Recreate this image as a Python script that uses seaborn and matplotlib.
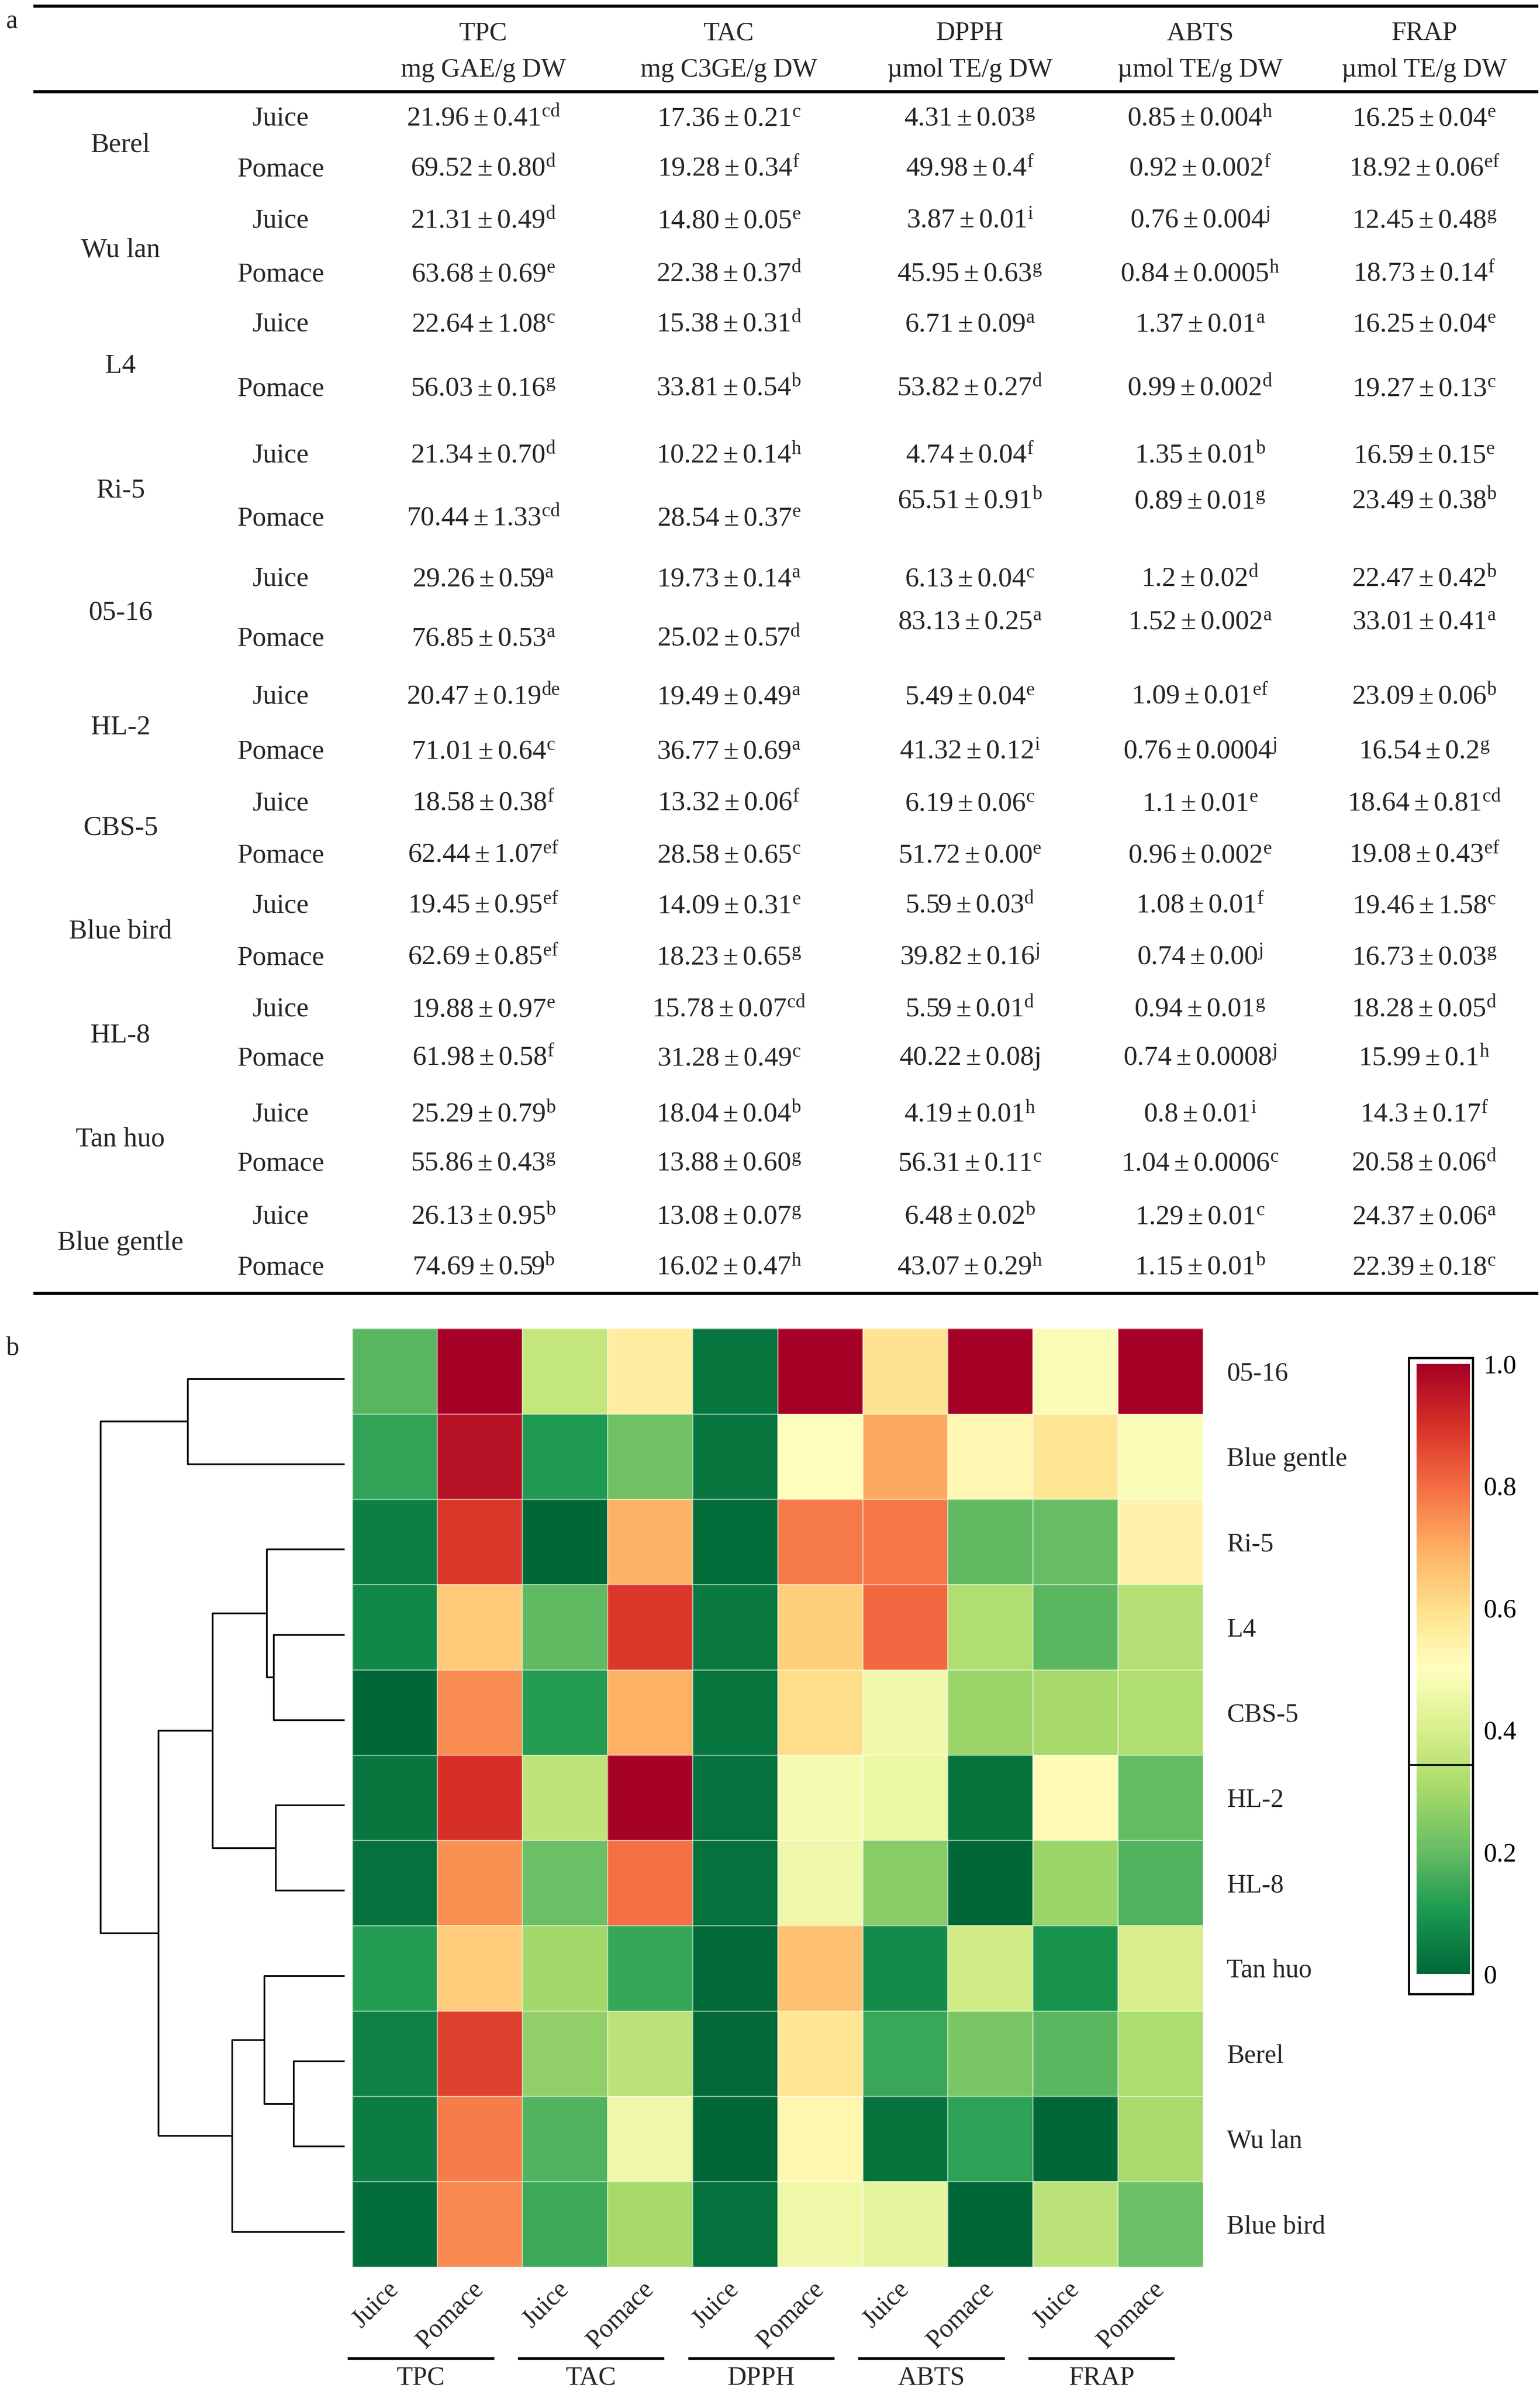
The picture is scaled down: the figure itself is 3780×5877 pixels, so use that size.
import numpy as np
import pandas as pd
import matplotlib
matplotlib.use("Agg")
import matplotlib.pyplot as plt
from matplotlib.patches import Rectangle
import seaborn as sns

# ---------------- data (panel a, order as printed) ----------------
varieties = ["Berel", "Wu lan", "L4", "Ri-5", "05-16", "HL-2", "CBS-5",
             "Blue bird", "HL-8", "Tan huo", "Blue gentle"]
parts = ["Juice", "Pomace"]
assays = ["TPC", "TAC", "DPPH", "ABTS", "FRAP"]
units = ["mg GAE/g DW", "mg C3GE/g DW", "µmol TE/g DW", "µmol TE/g DW", "µmol TE/g DW"]

tpc_mean = ["21.96", "69.52", "21.31", "63.68", "22.64", "56.03", "21.34", "70.44", "29.26", "76.85", "20.47",
            "71.01", "18.58", "62.44", "19.45", "62.69", "19.88", "61.98", "25.29", "55.86", "26.13", "74.69"]
tpc_sd = ["0.41", "0.80", "0.49", "0.69", "1.08", "0.16", "0.70", "1.33", "0.59", "0.53", "0.19",
          "0.64", "0.38", "1.07", "0.95", "0.85", "0.97", "0.58", "0.79", "0.43", "0.95", "0.59"]
tpc_sig = ["cd", "d", "d", "e", "c", "g", "d", "cd", "a", "a", "de",
           "c", "f", "ef", "ef", "ef", "e", "f", "b", "g", "b", "b"]

tac_mean = ["17.36", "19.28", "14.80", "22.38", "15.38", "33.81", "10.22", "28.54", "19.73", "25.02", "19.49",
            "36.77", "13.32", "28.58", "14.09", "18.23", "15.78", "31.28", "18.04", "13.88", "13.08", "16.02"]
tac_sd = ["0.21", "0.34", "0.05", "0.37", "0.31", "0.54", "0.14", "0.37", "0.14", "0.57", "0.49",
          "0.69", "0.06", "0.65", "0.31", "0.65", "0.07", "0.49", "0.04", "0.60", "0.07", "0.47"]
tac_sig = ["c", "f", "e", "d", "d", "b", "h", "e", "a", "d", "a",
           "a", "f", "c", "e", "g", "cd", "c", "b", "g", "g", "h"]

dpph_mean = ["4.31", "49.98", "3.87", "45.95", "6.71", "53.82", "4.74", "65.51", "6.13", "83.13", "5.49",
             "41.32", "6.19", "51.72", "5.59", "39.82", "5.59", "40.22", "4.19", "56.31", "6.48", "43.07"]
dpph_sd = ["0.03", "0.4", "0.01", "0.63", "0.09", "0.27", "0.04", "0.91", "0.04", "0.25", "0.04",
           "0.12", "0.06", "0.00", "0.03", "0.16", "0.01", "0.08", "0.01", "0.11", "0.02", "0.29"]
# "_j" = letter printed at normal size in the original
dpph_sig = ["g", "f", "i", "g", "a", "d", "f", "b", "c", "a", "e",
            "i", "c", "e", "d", "j", "d", "_j", "h", "c", "b", "h"]

abts_mean = ["0.85", "0.92", "0.76", "0.84", "1.37", "0.99", "1.35", "0.89", "1.2", "1.52", "1.09",
             "0.76", "1.1", "0.96", "1.08", "0.74", "0.94", "0.74", "0.8", "1.04", "1.29", "1.15"]
abts_sd = ["0.004", "0.002", "0.004", "0.0005", "0.01", "0.002", "0.01", "0.01", "0.02", "0.002", "0.01",
           "0.0004", "0.01", "0.002", "0.01", "0.00", "0.01", "0.0008", "0.01", "0.0006", "0.01", "0.01"]
abts_sig = ["h", "f", "j", "h", "a", "d", "b", "g", "d", "a", "ef",
            "j", "e", "e", "f", "j", "g", "j", "i", "c", "c", "b"]

frap_mean = ["16.25", "18.92", "12.45", "18.73", "16.25", "19.27", "16.59", "23.49", "22.47", "33.01", "23.09",
             "16.54", "18.64", "19.08", "19.46", "16.73", "18.28", "15.99", "14.3", "20.58", "24.37", "22.39"]
frap_sd = ["0.04", "0.06", "0.48", "0.14", "0.04", "0.13", "0.15", "0.38", "0.42", "0.41", "0.06",
           "0.2", "0.81", "0.43", "1.58", "0.03", "0.05", "0.1", "0.17", "0.06", "0.06", "0.18"]
frap_sig = ["e", "ef", "g", "f", "e", "c", "e", "b", "b", "a", "b",
            "g", "cd", "ef", "c", "g", "d", "h", "f", "d", "a", "c"]

# ---------------- data (panel b) ----------------
heat_order = ["05-16", "Blue gentle", "Ri-5", "L4", "CBS-5", "HL-2", "HL-8",
              "Tan huo", "Berel", "Wu lan", "Blue bird"]
# dendrogram merges: leaf ids = index in heat_order, new nodes numbered from 11
link_left = [3, 5, 8, 2, 14, 7, 16, 15, 0, 19]
link_right = [4, 6, 9, 11, 12, 13, 10, 17, 1, 18]
link_height = [303, 295, 218, 333, 566, 343, 481, 798, 673, 1046]
cbar_ticks = [0, 0.2, 0.4, 0.6, 0.8, 1.0]
cbar_labels = ["0", "0.2", "0.4", "0.6", "0.8", "1.0"]

# ---------------- build tables ----------------
rows = pd.MultiIndex.from_product([varieties, parts], names=["variety", "part"])
means = pd.DataFrame({"TPC": tpc_mean, "TAC": tac_mean, "DPPH": dpph_mean,
                      "ABTS": abts_mean, "FRAP": frap_mean}, index=rows)
sds = pd.DataFrame({"TPC": tpc_sd, "TAC": tac_sd, "DPPH": dpph_sd,
                    "ABTS": abts_sd, "FRAP": frap_sd}, index=rows)
sigs = pd.DataFrame({"TPC": tpc_sig, "TAC": tac_sig, "DPPH": dpph_sig,
                     "ABTS": abts_sig, "FRAP": frap_sig}, index=rows)

vals = means.astype(float)
# min-max scaling per assay (juice + pomace together)
scaled = (vals - vals.min()) / (vals.max() - vals.min())
heat = scaled.reset_index().melt(id_vars=["variety", "part"], var_name="assay", value_name="v")
heat = heat.pivot_table(index="variety", columns=["assay", "part"], values="v")
heat = heat.reindex(index=heat_order,
                    columns=pd.MultiIndex.from_product([assays, parts]))

# ---------------- style ----------------
sns.set_theme(style="white")
plt.rcParams["font.family"] = ["Liberation Serif", "DejaVu Serif"]
plt.rcParams["mathtext.fontset"] = "custom"
plt.rcParams["mathtext.rm"] = "Liberation Serif"
plt.rcParams["mathtext.it"] = "Liberation Serif:italic"
FS = 15.5      # headers, heatmap labels
FS_LAB = 16.2  # variety / part names in the table
FS_NUM = 16.3  # table values

W, H = 1010.0, 1570.0  # layout grid (reference display units)


def box(x0, y0, x1, y1):
    return [x0 / W, 1 - y1 / H, (x1 - x0) / W, (y1 - y0) / H]


fig = plt.figure(figsize=(12.6, 19.59), dpi=300)

# overlay axes for table + annotations
ax_o = fig.add_axes([0, 0, 1, 1], zorder=10)
ax_o.set_xlim(0, W)
ax_o.set_ylim(H, 0)
ax_o.axis("off")
ax_o.patch.set_alpha(0)

# ---------------- panel a: table ----------------
col_x = [317, 478, 636, 787, 934]
row_y = [78, 111, 145, 180, 213, 255, 299, 340, 380, 419, 457, 493,
         527, 561, 594, 628, 662, 694, 731, 763, 798, 831]
row_y_right = {7: 329, 9: 408}   # DPPH/ABTS/FRAP printed higher in these rows
var_y = [95, 164, 240, 322, 402, 477, 543, 611, 679, 747, 815]

for x, a, u in zip(col_x, assays, units):
    ax_o.text(x, 22, a, ha="center", va="center", fontsize=FS)
    ax_o.text(x, 46, u, ha="center", va="center", fontsize=FS)

for i, (v, p) in enumerate(rows):
    ax_o.text(184, row_y[i], p, ha="center", va="center", fontsize=FS_LAB)
    for j, a in enumerate(assays):
        y = row_y_right.get(i, row_y[i]) if j >= 2 else row_y[i]
        # wide plus-minus sign as in the original
        s = f"{means.loc[(v, p), a]}" + r"$\:$±$\:$" + f"{sds.loc[(v, p), a]}"
        sig = sigs.loc[(v, p), a]
        if sig.startswith("_"):
            s += sig[1:]
        else:
            s += r"$^{\mathrm{" + sig + "}}$"
        ax_o.text(col_x[j], y, s, ha="center", va="center", fontsize=FS_NUM)

for v, y in zip(varieties, var_y):
    ax_o.text(79, y, v, ha="center", va="center", fontsize=FS_LAB)

for y in [4, 60, 848]:
    ax_o.plot([22, 1009], [y, y], color="black", lw=1.8, solid_capstyle="butt")

ax_o.text(4, 14, "a", ha="left", va="center", fontsize=FS)
ax_o.text(4, 884, "b", ha="left", va="center", fontsize=FS)

# ---------------- panel b: heatmap ----------------
hx0, hx1, hy0, hy1 = 231, 789, 871, 1486
ax_h = fig.add_axes(box(hx0, hy0, hx1, hy1))
ax_c = fig.add_axes(box(929, 894, 964, 1294))

sns.heatmap(heat, ax=ax_h, cmap="RdYlGn_r", vmin=0, vmax=1,
            linewidths=0.6, linecolor=(1, 1, 1, 0.45),
            cbar_ax=ax_c, xticklabels=parts * len(assays), yticklabels=heat_order)
ax_h.set_xlabel("")
ax_h.set_ylabel("")
ax_h.yaxis.tick_right()
ax_h.set_yticklabels(heat_order, rotation=0, fontsize=FS, ha="left")
ax_h.set_xticklabels(parts * len(assays), rotation=45, ha="right", va="center",
                     rotation_mode="anchor", fontsize=FS)
ax_h.tick_params(axis="both", length=0)
ax_h.tick_params(axis="y", pad=14)
ax_h.tick_params(axis="x", pad=11)

cbar = ax_h.collections[0].colorbar
cbar.outline.set_visible(False)
cbar.set_ticks(cbar_ticks)
cbar.set_ticklabels(cbar_labels)
ax_c.yaxis.set_ticks_position("both")
ax_c.tick_params(axis="y", direction="in", colors="white", length=8, width=1.2,
                 left=True, right=True, labelleft=False, labelright=True,
                 labelcolor="black", labelsize=FS, pad=8)

# colorbar frame
ax_o.add_patch(Rectangle((924, 890), 42, 417, fill=False, ec="black", lw=1.3))
ax_o.plot([924, 966], [1157, 1157], color="black", lw=1.0)

# assay group lines under the column labels
cell_w = (hx1 - hx0) / 10
for k, a in enumerate(assays):
    x0 = hx0 + 2 * k * cell_w - 3
    x1 = x0 + 96
    ax_o.plot([x0, x1], [1546, 1546], color="black", lw=1.6, solid_capstyle="butt")
    ax_o.text((x0 + x1) / 2, 1559, a, ha="center", va="center", fontsize=FS)

# ---------------- dendrogram ----------------
shift = 5
ax_d = fig.add_axes(box(50, hy0 + shift, 226, hy1 + shift))
n = len(heat_order)
pos_y = {i: i + 0.5 for i in range(n)}
pos_h = {i: 0.0 for i in range(n)}
for k, (a, b, h) in enumerate(zip(link_left, link_right, link_height)):
    ya, yb = pos_y[a], pos_y[b]
    ax_d.plot([pos_h[a], h, h, pos_h[b]], [ya, ya, yb, yb], color="black", lw=1.0)
    pos_y[n + k] = (ya + yb) / 2
    pos_h[n + k] = h
ax_d.set_xlim(max(link_height) * 1.1, 0)
ax_d.set_ylim(n, 0)
ax_d.axis("off")

fig.savefig("out.png", dpi=300)
